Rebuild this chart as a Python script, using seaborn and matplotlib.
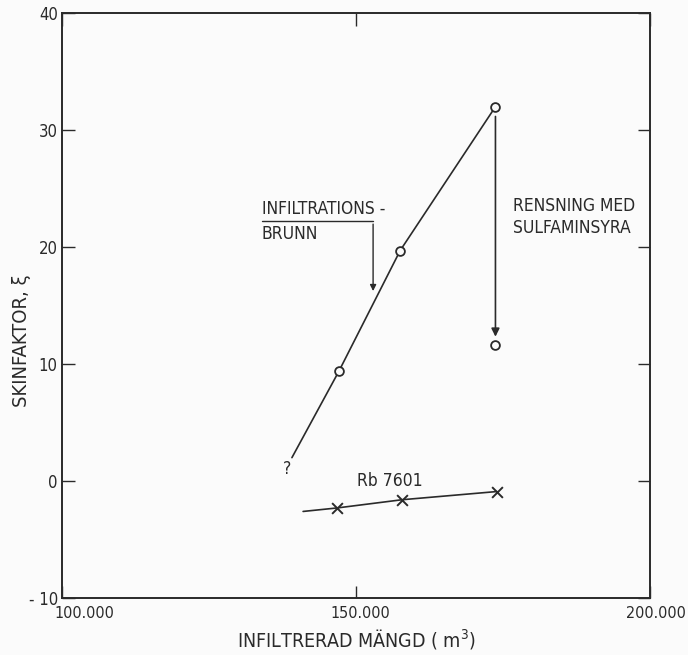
import matplotlib
matplotlib.use("Agg")
import matplotlib.pyplot as plt
import matplotlib.transforms as mtransforms
import seaborn as sns
import pandas as pd

# data
brunn_x = [139100, 147100, 157500, 173700]
brunn_y = [2.0, 9.4, 19.7, 32.0]
rensad_x = [173700]
rensad_y = [11.6]
rb_x = [141000, 146800, 157800, 173900]
rb_y = [-2.6, -2.3, -1.6, -0.9]
x_ticks = [100000, 150000, 200000]
x_labels = ["100.000", "150.000", "200.000"]
y_ticks = [-10, 0, 10, 20, 30, 40]
y_labels = ["- 10", "0", "10", "20", "30", "40"]

sns.set_style("ticks")
plt.rcParams['font.family'] = ['DejaVu Sans']
plt.rcParams['font.stretch'] = 'condensed'
plt.rcParams['axes.unicode_minus'] = False
ink = "#2a2a2a"
fs = 12.5

fig = plt.figure(figsize=(6.88, 6.55), dpi=100, facecolor="#fbfbfb")
ax = fig.add_axes([0.090, 0.087, 0.855, 0.893])
ax.set_facecolor("#fbfbfb")

df_brunn = pd.DataFrame({"x": brunn_x, "y": brunn_y})
df_rb = pd.DataFrame({"x": rb_x, "y": rb_y})

sns.lineplot(data=df_brunn, x="x", y="y", ax=ax, color=ink, lw=1.2, sort=False)
sns.lineplot(data=df_rb, x="x", y="y", ax=ax, color=ink, lw=1.2, sort=False)
ax.scatter(brunn_x[1:], brunn_y[1:], marker="o", s=40, facecolor="#fbfbfb",
           edgecolor=ink, linewidth=1.3, zorder=3)
ax.scatter(rensad_x, rensad_y, marker="o", s=40, facecolor="#fbfbfb",
           edgecolor=ink, linewidth=1.3, zorder=3)
ax.scatter(rb_x[1:], rb_y[1:], marker="x", s=60, color=ink, linewidth=1.4, zorder=3)

# rensning arrow
ax.annotate("", xy=(rensad_x[0], rensad_y[0] + 0.5), xytext=(brunn_x[-1], brunn_y[-1] - 0.6),
            arrowprops=dict(arrowstyle="-|>", color=ink, lw=1.2, mutation_scale=12))
ax.text(176600, 22.6, "RENSNING MED\nSULFAMINSYRA", fontsize=fs, color=ink,
        ha="left", va="center", linespacing=1.3)

# infiltrationsbrunn arrow
ax.plot([134000, 152900], [22.2, 22.2], color=ink, lw=1.0)
ax.annotate("", xy=(152900, 16.0), xytext=(152900, 22.2),
            arrowprops=dict(arrowstyle="-|>", color=ink, lw=1.0, mutation_scale=9))
ax.text(134000, 22.5, "INFILTRATIONS -", fontsize=fs, color=ink, ha="left", va="bottom")
ax.text(134000, 21.9, "BRUNN", fontsize=fs, color=ink, ha="left", va="top")

ax.text(138300, 1.0, "?", fontsize=fs, color=ink, ha="center", va="center")
ax.text(155700, 0.0, "Rb 7601", fontsize=fs, color=ink, ha="center", va="center")

ax.set_xlim(100000, 200000)
ax.set_ylim(-10, 40)
ax.set_xticks(x_ticks)
ax.set_xticklabels(x_labels)
ax.set_yticks(y_ticks)
ax.set_yticklabels(y_labels)
ax.tick_params(axis="both", direction="in", length=9, width=1.0, color=ink,
               labelsize=12, labelcolor=ink, top=True, right=True)
ax.tick_params(axis="x", pad=6, labelsize=11.5)
ax.tick_params(axis="y", pad=3)
for sp in ax.spines.values():
    sp.set_color(ink)
    sp.set_linewidth(1.4)

# shift outer x labels like the original
offs = [22, 4, 6]
for lab, dx in zip(ax.get_xticklabels(), offs):
    lab.set_transform(lab.get_transform() + mtransforms.ScaledTranslation(dx / 100, 0, fig.dpi_scale_trans))

ax.set_xlabel("INFILTRERAD MÄNGD ( m$^3$)", fontsize=14, color=ink, labelpad=4)
ax.set_ylabel("SKINFAKTOR, ξ", fontsize=14.5, color=ink)
ax.yaxis.set_label_coords(-0.052, 0.44)

fig.savefig("out.png", dpi=100, facecolor=fig.get_facecolor())
